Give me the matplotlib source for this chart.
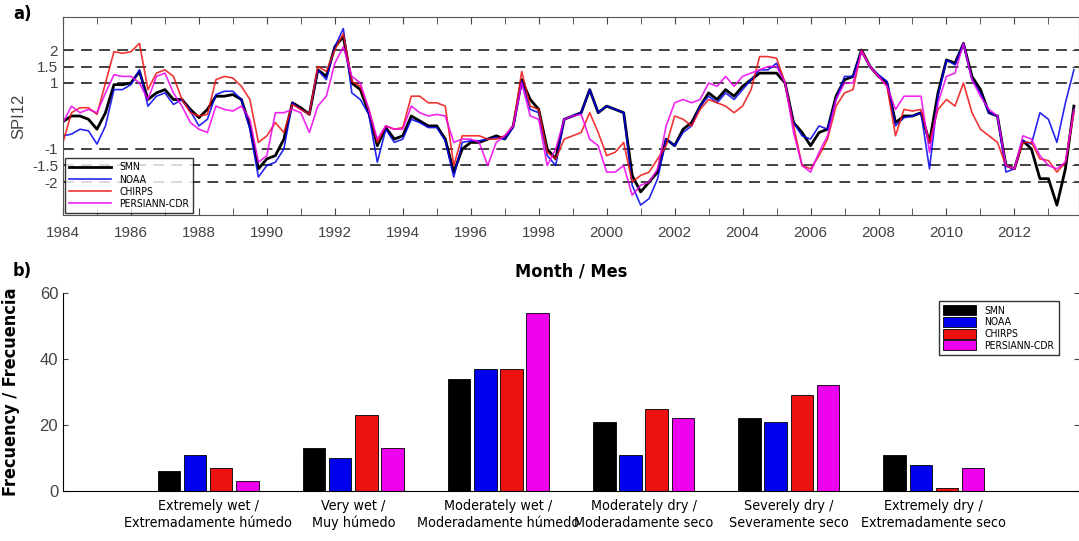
import numpy as np
import matplotlib.pyplot as plt
from matplotlib import font_manager as fm

# SPI12, quarterly readings (Jan, Apr, Jul, Oct), 1984-2013
smn = [-0.17, 0, 0, -0.1, -0.4, 0.1, 0.95, 0.95, 1.0, 1.35, 0.5, 0.7, 0.8, 0.5, 0.5, 0.2,
       -0.05, 0.2, 0.6, 0.6, 0.65, 0.5, -0.3, -1.6, -1.3, -1.2, -0.7, 0.4, 0.25, 0.05, 1.4, 1.2,
       2.1, 2.4, 1.0, 0.8, 0.1, -0.9, -0.35, -0.7, -0.6, 0, -0.15, -0.3, -0.3, -0.7, -1.7, -1.0,
       -0.8, -0.8, -0.7, -0.6, -0.7, -0.3, 1.1, 0.5, 0.2, -1.0, -1.3, -0.1, 0, 0.1, 0.8, 0.1,
       0.3, 0.2, 0.1, -1.8, -2.3, -2.0, -1.7, -0.7, -0.9, -0.4, -0.2, 0.3, 0.7, 0.5, 0.8, 0.6,
       0.9, 1.1, 1.3, 1.3, 1.3, 1.0, -0.2, -0.5, -0.9, -0.5, -0.4, 0.6, 1.1, 1.2, 2.0, 1.5,
       1.2, 1.0, -0.2, 0, 0, 0.1, -0.8, 0.7, 1.7, 1.6, 2.2, 1.2, 0.8, 0.1, 0, -1.5,
       -1.6, -0.75, -1.0, -1.9, -1.9, -2.7, -1.6, 0.3]
noaa = [-0.6, -0.55, -0.4, -0.45, -0.85, -0.3, 0.8, 0.8, 0.95, 1.4, 0.3, 0.6, 0.7, 0.35, 0.5, 0.15,
        -0.3, -0.1, 0.65, 0.75, 0.75, 0.5, -0.4, -1.85, -1.5, -1.4, -1.0, 0.4, 0.2, 0.05, 1.4, 1.1,
        2.1, 2.65, 0.7, 0.5, 0.05, -1.4, -0.4, -0.8, -0.7, -0.1, -0.2, -0.35, -0.35, -0.75, -1.85, -0.8,
        -0.75, -0.75, -0.7, -0.65, -0.7, -0.35, 1.05, 0.2, 0.1, -1.2, -1.5, -0.1, 0, 0.1, 0.8, 0.1,
        0.3, 0.2, 0.1, -2.1, -2.7, -2.5, -1.9, -0.7, -0.9, -0.5, -0.3, 0.3, 0.6, 0.4, 0.7, 0.5,
        0.8, 1.1, 1.4, 1.4, 1.6, 1.0, -0.2, -0.6, -0.7, -0.3, -0.4, 0.5, 1.2, 1.2, 2.0, 1.5,
        1.25, 1.05, -0.3, -0.05, 0, 0.1, -1.6, 0.6, 1.7, 1.55, 2.2, 1.1, 0.7, 0.1, 0, -1.7,
        -1.6, -0.75, -0.85, 0.1, -0.1, -0.8, 0.4, 1.4]
chirps = [-0.8, 0.1, 0.25, 0.25, 0.05, 1.0, 1.95, 1.9, 1.95, 2.2, 0.8, 1.3, 1.4, 1.2, 0.5, 0.1,
          0, 0.05, 1.1, 1.2, 1.15, 0.9, 0.5, -0.8, -0.6, -0.2, -0.5, 0.35, 0.2, 0.05, 1.5, 1.35,
          2.0, 2.5, 1.05, 0.9, 0.2, -0.8, -0.3, -0.4, -0.35, 0.6, 0.6, 0.4, 0.4, 0.3, -1.5, -0.6,
          -0.6, -0.6, -0.7, -0.7, -0.6, -0.3, 1.35, 0.3, 0.2, -1.1, -1.3, -0.7, -0.6, -0.5, 0.1, -0.5,
          -1.2, -1.1, -0.8, -2.0, -1.8, -1.7, -1.3, -0.9, 0, -0.1, -0.3, 0.2, 0.5, 0.4, 0.3, 0.1,
          0.3, 0.8, 1.8, 1.8, 1.75, 1.0, -0.3, -1.5, -1.6, -1.2, -0.7, 0.3, 0.7, 0.8, 2.0, 1.5,
          1.2, 0.9, -0.6, 0.2, 0.15, 0.2, -0.8, 0.2, 0.5, 0.3, 1.0, 0.1, -0.4, -0.6, -0.8, -1.5,
          -1.6, -0.8, -0.8, -1.3, -1.35, -1.7, -1.4, 0.1]
persiann = [-0.2, 0.3, 0.1, 0.2, 0.1, 0.7, 1.25, 1.2, 1.2, 1.0, 0.5, 1.2, 1.3, 0.7, 0.3, -0.2,
            -0.4, -0.5, 0.3, 0.2, 0.15, 0.3, -0.1, -1.4, -1.2, 0.1, 0.1, 0.2, 0.1, -0.5, 0.3, 0.6,
            1.6, 2.1, 1.2, 1.0, 0.2, -0.7, -0.3, -0.4, -0.4, 0.3, 0.1, 0, 0.05, 0, -0.8, -0.7,
            -0.7, -0.8, -1.5, -0.8, -0.6, -0.3, 1.0, 0, -0.1, -1.5, -1.0, -0.1, 0, 0.05, -0.7, -0.9,
            -1.7, -1.7, -1.5, -2.4, -2.1, -2.0, -1.6, -0.3, 0.4, 0.5, 0.4, 0.5, 1.0, 0.9, 1.2, 0.9,
            1.2, 1.3, 1.4, 1.5, 1.5, 1.0, -0.5, -1.5, -1.7, -1.1, -0.6, 0.5, 1.0, 1.0, 1.95, 1.5,
            1.2, 0.9, 0.2, 0.6, 0.6, 0.6, -1.1, 0.4, 1.2, 1.3, 2.2, 1.1, 0.6, 0.2, 0, -1.5,
            -1.6, -0.6, -0.7, -1.2, -1.5, -1.6, -1.4, 0.2]

series_names = ['SMN', 'NOAA', 'CHIRPS', 'PERSIANN-CDR']
series_colors = ['black', '#0000ee', '#ee1111', '#ee00ee']

categories = ['Extremely wet /\nExtremadamente húmedo', 'Very wet /\nMuy húmedo',
              'Moderately wet /\nModeradamente húmedo', 'Moderately dry /\nModeradamente seco',
              'Severely dry /\nSeveramente seco', 'Extremely dry /\nExtremadamente seco']
freq_smn = [6, 13, 34, 21, 22, 11]
freq_noaa = [11, 10, 37, 11, 21, 8]
freq_chirps = [7, 23, 37, 25, 29, 1]
freq_persiann = [3, 13, 54, 22, 32, 7]

plt.rcParams['font.family'] = ['Liberation Sans', 'DejaVu Sans']
nar = dict(family='DejaVu Sans', stretch='condensed')
nar_fp = fm.FontProperties(family='DejaVu Sans', stretch='condensed', size=7.5)

fig = plt.figure(figsize=(10.79, 5.41), dpi=100)
ax1 = fig.add_axes([63 / 1079, 1 - 215 / 541, 1016 / 1079, 198 / 541])
ax2 = fig.add_axes([63 / 1079, 1 - 491 / 541, 1016 / 1079, 198 / 541])

# panel a
t = 1984 + np.arange(len(smn)) / 4
for lev in [-2, -1.5, -1, 1, 1.5, 2]:
    ax1.axhline(lev, color='#333333', ls=(0, (6, 4)), lw=1.3, zorder=1)
lw = [2.0, 1.2, 1.2, 1.2]
for vals, name, c, w in zip([smn, noaa, chirps, persiann], series_names, series_colors, lw):
    ax1.plot(t, vals, color=c, lw=w, label=name, alpha=0.85 if name != 'SMN' else 1)
ax1.set_xlim(1984, 2013.9)
ax1.set_ylim(-3, 3)
ax1.set_xticks(np.arange(1984, 2014, 2))
ax1.set_xticks(np.arange(1984, 2014, 1), minor=True)
ax1.set_yticks([-2, -1.5, -1, 1, 1.5, 2])
ax1.set_yticklabels(['-2', '-1.5', '-1', '1', '1.5', '2'])
ax1.tick_params(which='both', direction='in', top=True, right=True, colors='#444444',
                labelsize=11, length=5)
ax1.tick_params(axis='x', pad=8)
ax1.set_ylabel('SPI12', fontsize=12, color='#444444')
for s in ax1.spines.values():
    s.set_color('#555555')
leg = ax1.legend(loc='lower left', handlelength=4, borderaxespad=0.2,
                 fancybox=False, edgecolor='black', labelspacing=0.2, prop=nar_fp)
leg.get_frame().set_linewidth(1)
ax1.set_xlabel('Month / Mes', fontsize=13, fontweight='bold', labelpad=16, **nar)
fig.text(0.012, 0.965, 'a)', fontsize=13, fontweight='bold', **nar)
fig.text(0.012, 0.49, 'b)', fontsize=13, fontweight='bold', **nar)

# panel b
x = np.arange(1, len(categories) + 1)
offsets = [-0.27, -0.09, 0.09, 0.27]
for vals, name, c, off in zip([freq_smn, freq_noaa, freq_chirps, freq_persiann],
                              series_names, series_colors, offsets):
    ax2.bar(x + off, vals, width=0.155, color=c, edgecolor='black', lw=0.6, label=name)
ax2.set_xlim(0, 7)
ax2.set_ylim(0, 60)
ax2.set_yticks([0, 20, 40, 60])
ax2.set_xticks(x)
ax2.set_xticklabels(categories, fontsize=10.3, **nar)
ax2.tick_params(axis='y', labelsize=12, colors='#444444', direction='in', right=True)
ax2.tick_params(axis='x', length=0, pad=6)
for lbl in ax2.get_xticklabels():
    lbl.set_color('black')
ax2.set_ylabel('Frecuency / Frecuencia', fontsize=13, fontweight='bold', labelpad=14, **nar)
ax2.spines['top'].set_visible(False)
ax2.spines['right'].set_visible(False)
leg2 = ax2.legend(loc='upper right', bbox_to_anchor=(0.985, 0.985), fancybox=False,
                  edgecolor='black', prop=nar_fp,
                  handlelength=3.2, handleheight=1.1, labelspacing=0.1)

fig.savefig('out.png', dpi=100)
